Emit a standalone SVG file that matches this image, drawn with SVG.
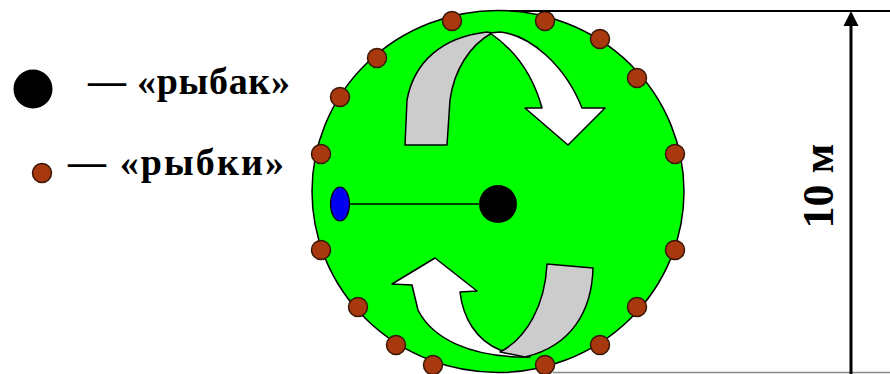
<svg xmlns="http://www.w3.org/2000/svg" width="890" height="374" viewBox="0 0 890 374">
<style>
.fish{fill:#a8390f;stroke:#3a1606;stroke-width:1.5}
.pond{fill:#00ff00;stroke:#000;stroke-width:1.5}
.gray{fill:#cccccc;stroke:#000;stroke-width:1.5;stroke-linejoin:round}
.white{fill:#ffffff;stroke:#000;stroke-width:1.5;stroke-linejoin:round}
.lbl{font-family:"Liberation Serif","Times New Roman",serif;font-weight:bold;fill:#000}
</style>
<rect width="890" height="374" fill="#ffffff"/>
<g id="pond">
<ellipse class="pond" cx="498" cy="191.5" rx="186" ry="181"/>
</g>
<g id="arrow-top">
<path class="gray" d="M405,145 L407,100 C414,62 442,37 487,32 L492,33 C470,45 454,70 450,100 L447,145 Z"/>
<path class="white" d="M490,33 L500,32 C530,35 565,65 582,108 L605,108 L568,145 L525,108 L542,108 C533,75 515,50 490,33 Z"/>
</g>
<g id="arrow-bottom">
<path class="white" d="M392,284 L435,258 L477,291 L460,292 C463,318 476,340 500,350 L530,357 C470,358 432,338 418,310 L412,285 Z"/>
<path class="gray" d="M547,264 L593,268 C592,310 572,346 525,357 L500,352 C527,338 545,305 547,264 Z"/>
</g>
<g id="fishes">
<circle class="fish" cx="452" cy="21" r="9.5"/>
<circle class="fish" cx="545" cy="21" r="9.5"/>
<circle class="fish" cx="600" cy="39" r="9.5"/>
<circle class="fish" cx="637" cy="78" r="9.5"/>
<circle class="fish" cx="675" cy="154" r="9.5"/>
<circle class="fish" cx="675" cy="250" r="9.5"/>
<circle class="fish" cx="637" cy="307" r="9.5"/>
<circle class="fish" cx="600" cy="345" r="9.5"/>
<circle class="fish" cx="545" cy="365" r="9.5"/>
<circle class="fish" cx="433" cy="365" r="9.5"/>
<circle class="fish" cx="396" cy="345" r="9.5"/>
<circle class="fish" cx="358" cy="307" r="9.5"/>
<circle class="fish" cx="321" cy="250" r="9.5"/>
<circle class="fish" cx="321" cy="154" r="9.5"/>
<circle class="fish" cx="340" cy="97" r="9.5"/>
<circle class="fish" cx="377" cy="58" r="9.5"/>
</g>
<g id="connectors">
<line x1="349" y1="204" x2="480" y2="204" stroke="#000" stroke-width="1.5"/>
<line x1="510" y1="11" x2="890" y2="11" stroke="#000" stroke-width="2"/>
<line x1="553" y1="372.5" x2="890" y2="372.5" stroke="#888" stroke-width="1.5"/>
<line x1="851" y1="24" x2="851" y2="374" stroke="#000" stroke-width="3"/>
<polygon points="851,11 843.5,26 858.5,26" fill="#000"/>
</g>
<g id="float">
<ellipse cx="340" cy="204" rx="9.5" ry="17" fill="#0000ee" stroke="#000" stroke-width="1.2"/>
</g>
<g id="fisher">
<circle cx="498" cy="204" r="19" fill="#000"/>
</g>
<g id="legend">
<circle cx="33" cy="89" r="19.5" fill="#000"/>
<text class="lbl" x="88" y="94" font-size="38" textLength="202" lengthAdjust="spacing">— «рыбак»</text>
<circle class="fish" cx="42" cy="173" r="9.5"/>
<text class="lbl" x="68" y="175" font-size="38" textLength="216" lengthAdjust="spacing">— «рыбки»</text>
</g>
<g id="dimension-label">
<text class="lbl" font-size="44" text-anchor="middle" transform="translate(833,186) rotate(-90)">10 м</text>
</g>
</svg>
